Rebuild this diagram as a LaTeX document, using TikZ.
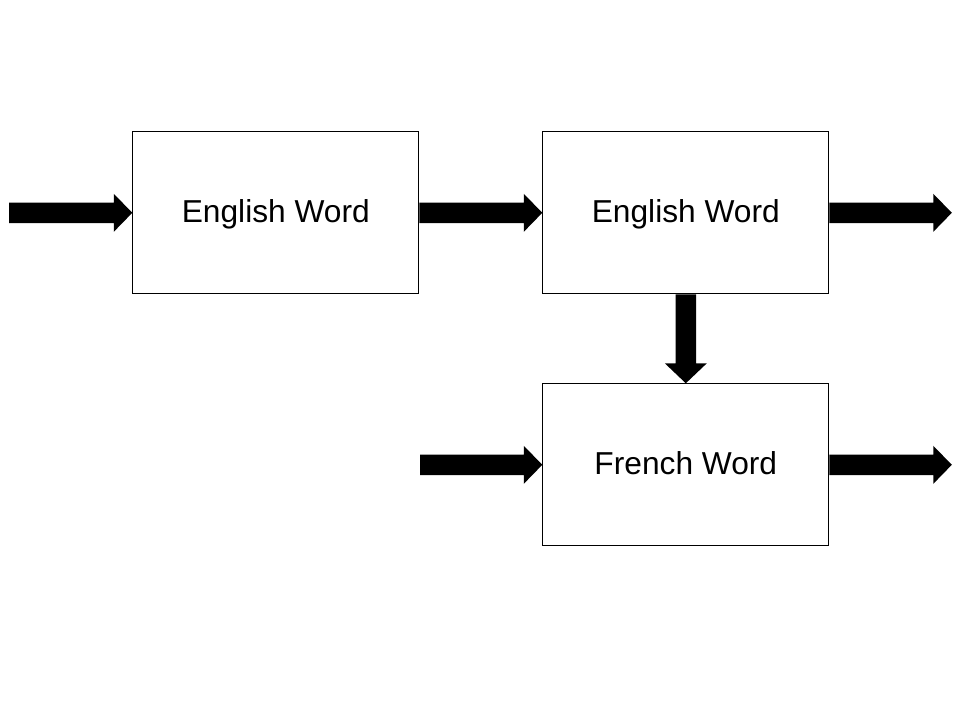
\documentclass[tikz,border=0pt]{standalone}
\usepackage{fontspec}
\setmainfont{Liberation Sans}
\usetikzlibrary{calc}
% #1 head half-width, #2 head length, #3 start, #4 end
\newcommand\blockarr[4][19pt]{%
  \path ($(#4)!#2!(#3)$) coordinate (hb);
  \fill[black] ($(#3)!10.3pt!90:(#4)$) -- ($(hb)!10.3pt!90:(#4)$) -- ($(hb)!#1!90:(#4)$)
    -- (#4) -- ($(hb)!#1!-90:(#4)$) -- ($(hb)!10.3pt!-90:(#4)$) -- ($(#3)!10.3pt!-90:(#4)$) -- cycle;}
\begin{document}
\begin{tikzpicture}[x=1pt,y=-1pt,
  wordbox/.style={draw=black,line width=1pt,minimum width=286pt,minimum height=162pt,inner sep=0pt,
    font=\fontsize{31.7}{36}\selectfont,text height=22pt,text depth=2pt,anchor=north west}]
\useasboundingbox (0,0) rectangle (960,720);
\fill[white] (0,0) rectangle (960,720);
\node[wordbox] (e1) at (132.3,131.3) {English Word};
\node[wordbox] (e2) at (542.3,131.3) {English Word};
\node[wordbox] (f) at (542.3,383.3) {French Word};
\path (e1.west) ++(-123.3,0) coordinate (in1);
\path (e2.east) ++(122.5,0) coordinate (out1);
\path (f.west) ++(-122.3,0) coordinate (in2);
\path (f.east) ++(122.5,0) coordinate (out2);
\blockarr{18.5pt}{in1}{e1.west}
\blockarr{18.5pt}{e1.east}{e2.west}
\blockarr{18.5pt}{e2.east}{out1}
\blockarr{18.5pt}{in2}{f.west}
\blockarr{18.5pt}{f.east}{out2}
\blockarr[21pt]{20pt}{e2.south}{f.north}
\end{tikzpicture}
\end{document}
